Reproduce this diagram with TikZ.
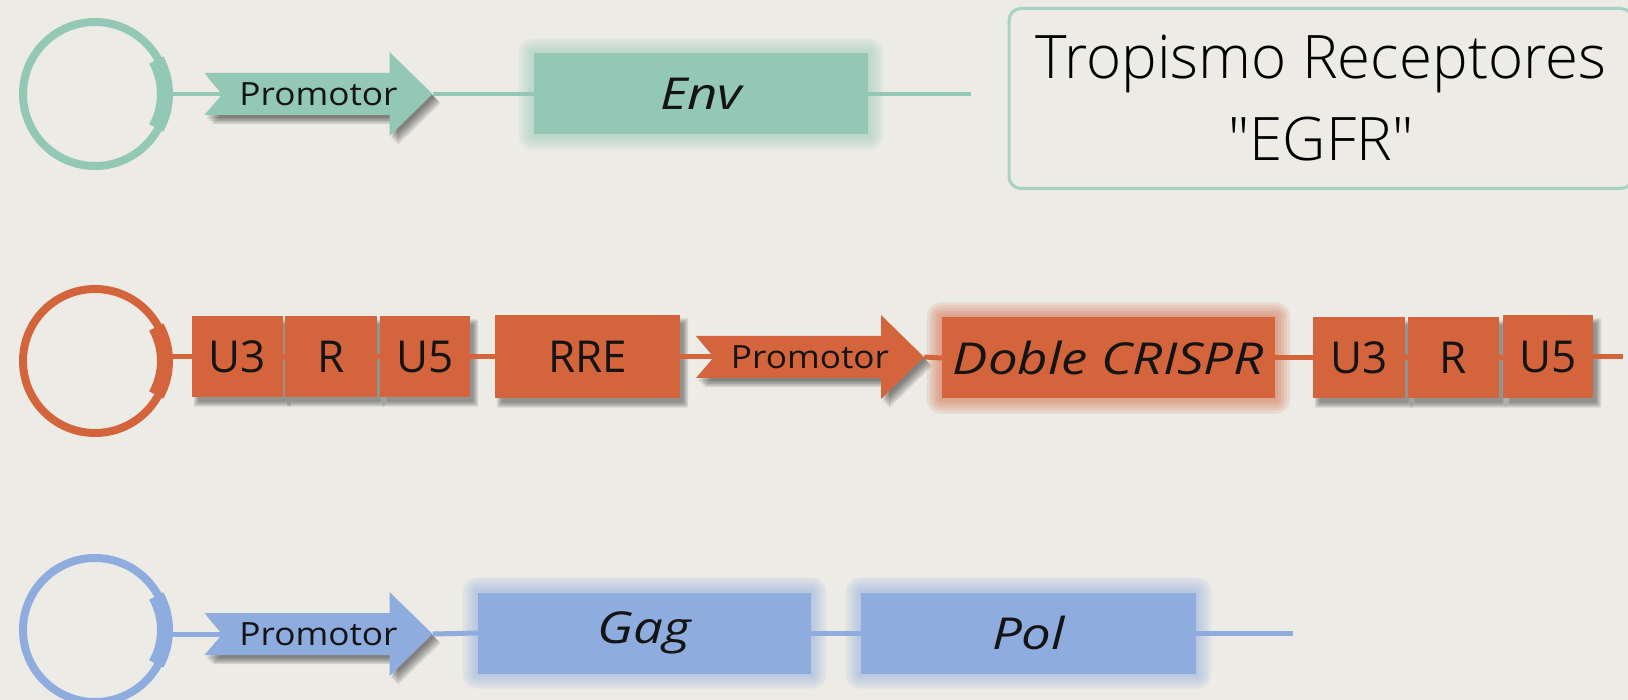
\documentclass[tikz,border=0pt]{standalone}
\usepackage{fontspec}
\setmainfont{Open Sans}
\newfontfamily\titlefont{Open Sans Light}
\newfontfamily\genefont[FakeStretch=1.2]{Open Sans}
\newfontfamily\promfont[FakeStretch=1.1]{Open Sans}
\usetikzlibrary{calc}
\pgfdeclarelayer{bg}
\pgfdeclarelayer{glow}
\pgfdeclarelayer{lines}
\pgfsetlayers{bg,glow,lines,main}
\definecolor{bgc}{RGB}{236,235,230}
\definecolor{tealc}{RGB}{148,200,182}
\definecolor{orc}{RGB}{212,100,59}
\definecolor{bluec}{RGB}{142,172,222}
\definecolor{framec}{RGB}{168,210,196}
\tikzset{
  plasmid/.style={circle, draw=#1, line width=8pt, minimum size=144pt, inner sep=0pt},
  rowline/.style 2 args={draw=#1, line width=#2},
  gene/.style={fill=#1, minimum height=81pt, inner sep=0pt,
    font=\genefont\itshape\fontsize{44}{50}\selectfont, text=black!92},
  ltr/.style={fill=orc, minimum height=81pt, inner sep=0pt,
    font=\fontsize{44}{50}\selectfont, text=black!92},
  promtext/.style={minimum width=228pt, minimum height=84pt, inner sep=0pt,
    font=\promfont\fontsize{32}{36}\selectfont, text=black!92},
  shade/.style={fill=black, opacity=0.11},
  tab/.style={draw=#1, line width=16pt},
}
\newcommand\prompath[2]{({#1-114},{#2-21}) -- ({#1+71},{#2-21}) -- ({#1+71},{#2-42})
    -- ({#1+114},{#2}) -- ({#1+71},{#2+42}) -- ({#1+71},{#2+21})
    -- ({#1-114},{#2+21}) -- ({#1-96},{#2}) -- cycle}
\newcommand\promo[4]{%
  \begin{pgfonlayer}{glow}
  \foreach \d in {2,3.5,5,6.5,8}{
    \fill[shade, shift={(\d,\d+1)}] \prompath{#2}{#3};
  }
  \end{pgfonlayer}
  \fill[#4] \prompath{#2}{#3};
  \node[promtext] (#1) at (#2,#3) {Promotor};}
\newcommand\glowbox[2]{%
  \begin{pgfonlayer}{glow}
  \foreach \g in {15,12,9,6,3}{
    \fill[#2, opacity=0.13, rounded corners=\g pt]
      ($(#1.north west)+(-\g,-\g)$) rectangle ($(#1.south east)+(\g,\g)$);
  }
  \end{pgfonlayer}}
\newcommand\shadowbox[1]{%
  \begin{pgfonlayer}{glow}
  \foreach \s in {3,1.5,0,-1.5}{
    \fill[shade, rounded corners=2pt]
      ($(#1.north west)+(5-\s,6-\s)$) rectangle ($(#1.south east)+(5+\s,6+\s)$);
  }
  \end{pgfonlayer}}
\begin{document}
\begin{tikzpicture}[x=1pt,y=-1pt]
\begin{pgfonlayer}{bg}
  \fill[bgc] (0,0) rectangle (1628,700);
\end{pgfonlayer}
\useasboundingbox (0,0) rectangle (1628,700);
\clip (0,0) rectangle (1628,700);

% ---------- Row 1 (teal) ----------
\node[plasmid=tealc] (c1) at (95,94) {};
\draw[tab=tealc] ($(c1.center)+(-29:70)$) arc[start angle=-29, end angle=29, radius=70];
\promo{p1}{318.5}{94}{tealc}
\node[gene=tealc, minimum width=334pt] (env) at (701,94) {Env};
\glowbox{env}{tealc}
\coordinate (e1) at (971,94);
\begin{pgfonlayer}{lines}
  \draw[rowline={tealc}{3.5pt}] (c1.east) -- (p1.center);
  \draw[rowline={tealc}{3.5pt}] (p1.east) -- (env.west);
  \draw[rowline={tealc}{3.5pt}] (env.east) -- (e1);
\end{pgfonlayer}

% title box
\node[draw=framec, line width=3pt, rounded corners=12pt, minimum width=624pt,
  minimum height=180pt, inner sep=0pt, align=center,
  font=\titlefont\fontsize{60}{82}\selectfont, text=black]
  (title) at (1321,98.5) {Tropismo Receptores\\"EGFR"};

% ---------- Row 2 (orange) ----------
\node[plasmid=orc] (c2) at (95,361) {};
\draw[tab=orc] ($(c2.center)+(-29:70)$) arc[start angle=-29, end angle=29, radius=70];
\node[ltr, minimum width=91pt] (u3a) at (237.5,357) {U3};
\node[ltr, minimum width=92pt] (ra) at (331,357) {R};
\node[ltr, minimum width=90pt] (u5a) at (425,357) {U5};
\node[ltr, minimum width=185pt, minimum height=83pt] (rre) at (587.5,357) {RRE};
\foreach \b in {u3a,ra,u5a,rre}{\shadowbox{\b}}
\promo{p2}{810}{357}{orc}
\node[gene=orc, minimum width=333pt] (crispr) at (1108.5,358) {Doble CRISPR};
\glowbox{crispr}{orc}
\node[ltr, minimum width=92pt] (u3b) at (1359,358) {U3};
\node[ltr, minimum width=91pt] (rb) at (1453.5,358) {R};
\node[ltr, minimum width=90pt, minimum height=83pt] (u5b) at (1548,357) {U5};
\foreach \b in {u3b,rb,u5b}{\shadowbox{\b}}
\coordinate (e2) at (1623,357);
\begin{pgfonlayer}{lines}
  \draw[rowline={orc}{5pt}] (c2.east |- u3a.west) -- (u3a.west);
  \draw[rowline={orc}{5pt}] (u3a.east) -- (ra.west);
  \draw[rowline={orc}{5pt}] (ra.east) -- (u5a.west);
  \draw[rowline={orc}{5pt}] (u5a.east) -- (rre.west);
  \draw[rowline={orc}{5pt}] (rre.east) -- (p2.center);
  \draw[rowline={orc}{5pt}] (p2.east) -- (crispr.west);
  \draw[rowline={orc}{5pt}] (crispr.east) -- (u3b.west);
  \draw[rowline={orc}{5pt}] (u3b.east) -- (rb.west);
  \draw[rowline={orc}{5pt}] (rb.east) -- (u5b.west);
  \draw[rowline={orc}{5pt}] (u5b.east) -- (e2);
\end{pgfonlayer}

% ---------- Row 3 (blue) ----------
\node[plasmid=bluec] (c3) at (95,630) {};
\draw[tab=bluec] ($(c3.center)+(-29:70)$) arc[start angle=-29, end angle=29, radius=70];
\promo{p3}{318.5}{634}{bluec}
\node[gene=bluec, minimum width=333pt] (gag) at (644.5,633) {Gag};
\glowbox{gag}{bluec}
\node[gene=bluec, minimum width=335pt] (pol) at (1028.5,633) {Pol};
\glowbox{pol}{bluec}
\coordinate (e3) at (1293,633);
\begin{pgfonlayer}{lines}
  \draw[rowline={bluec}{5pt}] (c3.east |- p3.center) -- (p3.center);
  \draw[rowline={bluec}{5pt}] (p3.east) -- (gag.west);
  \draw[rowline={bluec}{5pt}] (gag.east) -- (pol.west);
  \draw[rowline={bluec}{5pt}] (pol.east) -- (e3);
\end{pgfonlayer}
\end{tikzpicture}
\end{document}
